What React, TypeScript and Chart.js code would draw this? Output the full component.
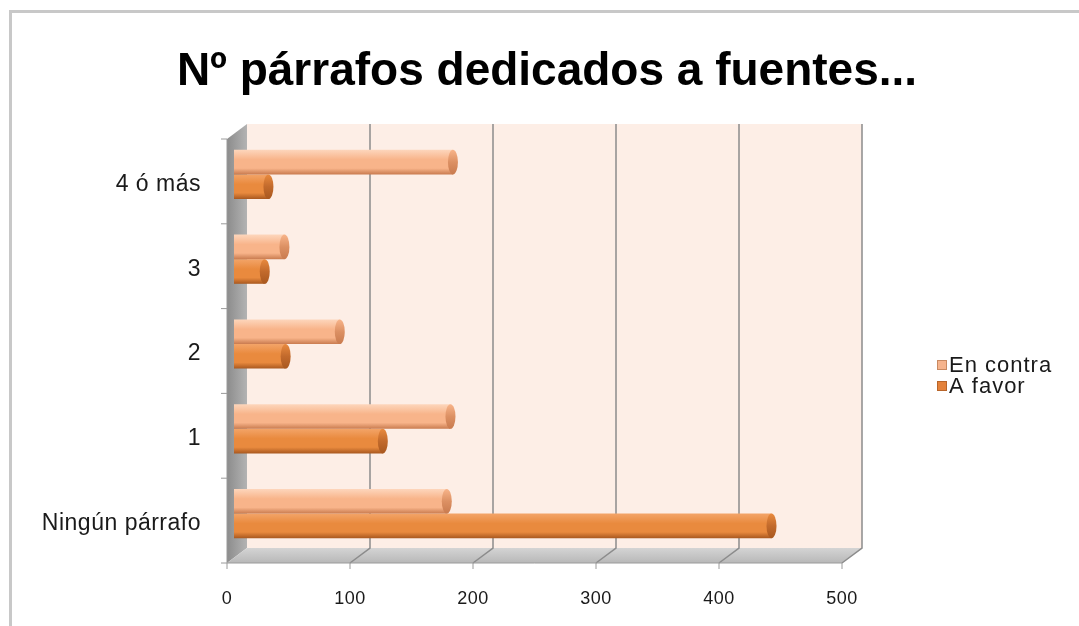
import React, { useEffect, useRef } from "react";
import { Chart, registerables } from "chart.js";

Chart.register(...registerables);

const categories = ["Ningún párrafo", "1", "2", "3", "4 ó más"];
const enContra = [173, 176, 86, 41, 178];
const aFavor = [437, 121, 42, 25, 28];
const seriesNames = ["En contra", "A favor"];
const xTicks = [0, 100, 200, 300, 400, 500];
const titleText = "Nº párrafos dedicados a fuentes...";

const FONT = "'Liberation Sans', Arial, sans-serif";
const DX_BACK = 13;
const DY_BACK = -8;
const DX_FRONT = -7;
const DY_FRONT = 7;
const CAT_PCT = 0.58;

const seriesShades = [
  { top: "#fdd6bc", mid: "#f8b48a", bot: "#c97b4f", cap: "#dc9063", legend: "#f6b48d", edge: "#c98a62" },
  { top: "#f3a468", mid: "#e98a3e", bot: "#a9581f", cap: "#c26a2c", legend: "#e4823b", edge: "#b8652a" },
];

const barGradient = (si: number) => (c: any) => {
  const sh = seriesShades[si];
  const chart = c.chart;
  const ys = chart && chart.scales && chart.scales.y;
  if (!ys || c.dataIndex == null || !chart.chartArea) return sh.mid;
  const p0 = ys.getPixelForValue(0);
  const p1 = ys.getPixelForValue(1);
  const band = Math.abs(p1 - p0);
  if (!isFinite(band) || band === 0) return sh.mid;
  const size = band * CAT_PCT;
  const chunk = size / 2;
  const center = ys.getPixelForValue(c.dataIndex);
  const top = center - size / 2 + chunk * si;
  const g = chart.ctx.createLinearGradient(0, top, 0, top + chunk);
  g.addColorStop(0, sh.top);
  g.addColorStop(0.4, sh.mid);
  g.addColorStop(0.75, sh.mid);
  g.addColorStop(1, sh.bot);
  return g;
};

const decorPlugin = {
  id: "decor3d",
  beforeDraw(chart: any) {
    const { ctx, chartArea } = chart;
    const { left, right, top, bottom } = chartArea;
    const xs = chart.scales.x;
    const ys = chart.scales.y;
    ctx.save();
    // back wall
    ctx.fillStyle = "#fdeee6";
    ctx.fillRect(left + DX_BACK, top + DY_BACK, right - left, bottom - top);
    // left side wall
    const g = ctx.createLinearGradient(left + DX_FRONT, 0, left + DX_BACK, 0);
    g.addColorStop(0, "#8c8c8c");
    g.addColorStop(1, "#b3b3b3");
    ctx.fillStyle = g;
    ctx.beginPath();
    ctx.moveTo(left + DX_FRONT, top + DY_FRONT);
    ctx.lineTo(left + DX_BACK, top + DY_BACK);
    ctx.lineTo(left + DX_BACK, bottom + DY_BACK);
    ctx.lineTo(left + DX_FRONT, bottom + DY_FRONT);
    ctx.closePath();
    ctx.fill();
    // floor
    const gf = ctx.createLinearGradient(0, bottom + DY_BACK, 0, bottom + DY_FRONT);
    gf.addColorStop(0, "#d4d4d4");
    gf.addColorStop(1, "#b8b8b8");
    ctx.fillStyle = gf;
    ctx.beginPath();
    ctx.moveTo(left + DX_FRONT, bottom + DY_FRONT);
    ctx.lineTo(left + DX_BACK, bottom + DY_BACK);
    ctx.lineTo(right + DX_BACK, bottom + DY_BACK);
    ctx.lineTo(right + DX_FRONT, bottom + DY_FRONT);
    ctx.closePath();
    ctx.fill();
    // grid lines on back wall and floor
    ctx.strokeStyle = "#8c8c8c";
    ctx.lineWidth = 1.5;
    xs.ticks.forEach((t: any) => {
      if (t.value === 0) return;
      const px = xs.getPixelForValue(t.value);
      ctx.beginPath();
      ctx.moveTo(px + DX_BACK, top + DY_BACK);
      ctx.lineTo(px + DX_BACK, bottom + DY_BACK);
      ctx.lineTo(px + DX_FRONT, bottom + DY_FRONT);
      ctx.stroke();
    });
    // front axis lines and tick marks
    ctx.strokeStyle = "#9a9a9a";
    ctx.lineWidth = 1;
    ctx.beginPath();
    ctx.moveTo(left + DX_FRONT, top + DY_FRONT);
    ctx.lineTo(left + DX_FRONT, bottom + DY_FRONT);
    ctx.lineTo(right + DX_FRONT, bottom + DY_FRONT);
    ctx.stroke();
    xs.ticks.forEach((t: any) => {
      const px = xs.getPixelForValue(t.value) + DX_FRONT;
      ctx.beginPath();
      ctx.moveTo(px, bottom + DY_FRONT);
      ctx.lineTo(px, bottom + DY_FRONT + 6);
      ctx.stroke();
    });
    const n = ys.ticks.length;
    for (let i = 0; i <= n; i++) {
      const py = ys.getPixelForValue(i - 0.5) + DY_FRONT;
      ctx.beginPath();
      ctx.moveTo(left + DX_FRONT - 6, py);
      ctx.lineTo(left + DX_FRONT, py);
      ctx.stroke();
    }
    ctx.restore();
    // slight letter spacing for axis labels (drawn next)
    (ctx as any).letterSpacing = "0.5px";
  },
  afterDatasetsDraw(chart: any) {
    const { ctx } = chart;
    ctx.save();
    chart.data.datasets.forEach((ds: any, di: number) => {
      const sh = seriesShades[di];
      const meta = chart.getDatasetMeta(di);
      meta.data.forEach((el: any) => {
        const h = el.height;
        const y0 = el.y - h / 2;
        const g = ctx.createLinearGradient(0, y0, 0, y0 + h);
        g.addColorStop(0, sh.mid);
        g.addColorStop(0.5, sh.cap);
        g.addColorStop(1, sh.bot);
        ctx.fillStyle = g;
        ctx.beginPath();
        ctx.ellipse(el.x, el.y, 5, h / 2, 0, 0, Math.PI * 2);
        ctx.fill();
      });
    });
    ctx.restore();
  },
  afterDraw(chart: any) {
    const { ctx } = chart;
    ctx.save();
    // title
    (ctx as any).letterSpacing = "0px";
    ctx.font = `bold 46px ${FONT}`;
    ctx.textBaseline = "alphabetic";
    ctx.textAlign = "center";
    ctx.fillStyle = "#000";
    ctx.fillText(titleText, 547, 85);
    ctx.restore();

    // legend
    ctx.save();
    (ctx as any).letterSpacing = "1px";
    ctx.font = `22px ${FONT}`;
    ctx.textBaseline = "middle";
    ctx.textAlign = "left";
    const baseY = 365;
    chart.data.datasets.forEach((ds: any, i: number) => {
      const y = baseY + i * 21;
      const sh = seriesShades[i];
      ctx.fillStyle = sh.legend;
      ctx.fillRect(937, y - 5, 10, 10);
      ctx.strokeStyle = sh.edge;
      ctx.lineWidth = 1;
      ctx.strokeRect(937.5, y - 4.5, 9, 9);
      ctx.fillStyle = "#1a1a1a";
      ctx.fillText(ds.label, 949, y + 1);
    });
    ctx.restore();
  },
};

export default function App() {
  const ref = useRef<HTMLCanvasElement | null>(null);
  useEffect(() => {
    if (!ref.current) return;
    const chart = new Chart(ref.current, {
      type: "bar",
      data: {
        labels: categories,
        datasets: [
          {
            label: seriesNames[0],
            data: enContra,
            backgroundColor: barGradient(0),
            borderWidth: 0,
          },
          {
            label: seriesNames[1],
            data: aFavor,
            backgroundColor: barGradient(1),
            borderWidth: 0,
          },
        ],
      },
      options: {
        indexAxis: "y",
        responsive: false,
        animation: false,
        layout: { padding: { left: 16, right: 0, top: 132, bottom: 0 } },
        datasets: { bar: { categoryPercentage: CAT_PCT, barPercentage: 1.0 } },
        plugins: {
          legend: { display: false },
          tooltip: { enabled: false },
          title: { display: false },
        },
        scales: {
          x: {
            type: "linear",
            min: 0,
            max: 500,
            afterBuildTicks: (s: any) => {
              s.ticks = xTicks.map((v) => ({ value: v }));
            },
            grid: { display: false, drawTicks: false },
            border: { display: false },
            ticks: {
              color: "#1a1a1a",
              font: { family: FONT, size: 18 },
              padding: 32,
              labelOffset: DX_FRONT,
            },
            afterFit: (s: any) => {
              s.height = 70;
            },
          },
          y: {
            type: "category",
            reverse: true,
            grid: { display: false, drawTicks: false },
            border: { display: false },
            ticks: {
              color: "#1a1a1a",
              font: { family: FONT, size: 23 },
              padding: 33,
              labelOffset: 10,
            },
            afterFit: (s: any) => {
              s.width = 218;
            },
          },
          yRight: {
            type: "linear",
            position: "right",
            display: true,
            grid: { display: false, drawTicks: false },
            border: { display: false },
            ticks: { display: false },
            afterFit: (s: any) => {
              s.width = 230;
            },
          },
        },
      },
      plugins: [decorPlugin],
    } as any);
    return () => chart.destroy();
  }, []);

  return (
    <div
      style={{
        position: "fixed",
        left: 0,
        top: 0,
        width: 1079,
        height: 626,
        overflow: "hidden",
        background: "#fff",
      }}
    >
      <div
        style={{
          position: "absolute",
          left: 9,
          top: 10,
          width: 1200,
          height: 800,
          border: "3px solid #c8c8c8",
        }}
      />
      <canvas
        ref={ref}
        width={1079}
        height={626}
        style={{ position: "absolute", left: 0, top: 0 }}
      />
    </div>
  );
}
